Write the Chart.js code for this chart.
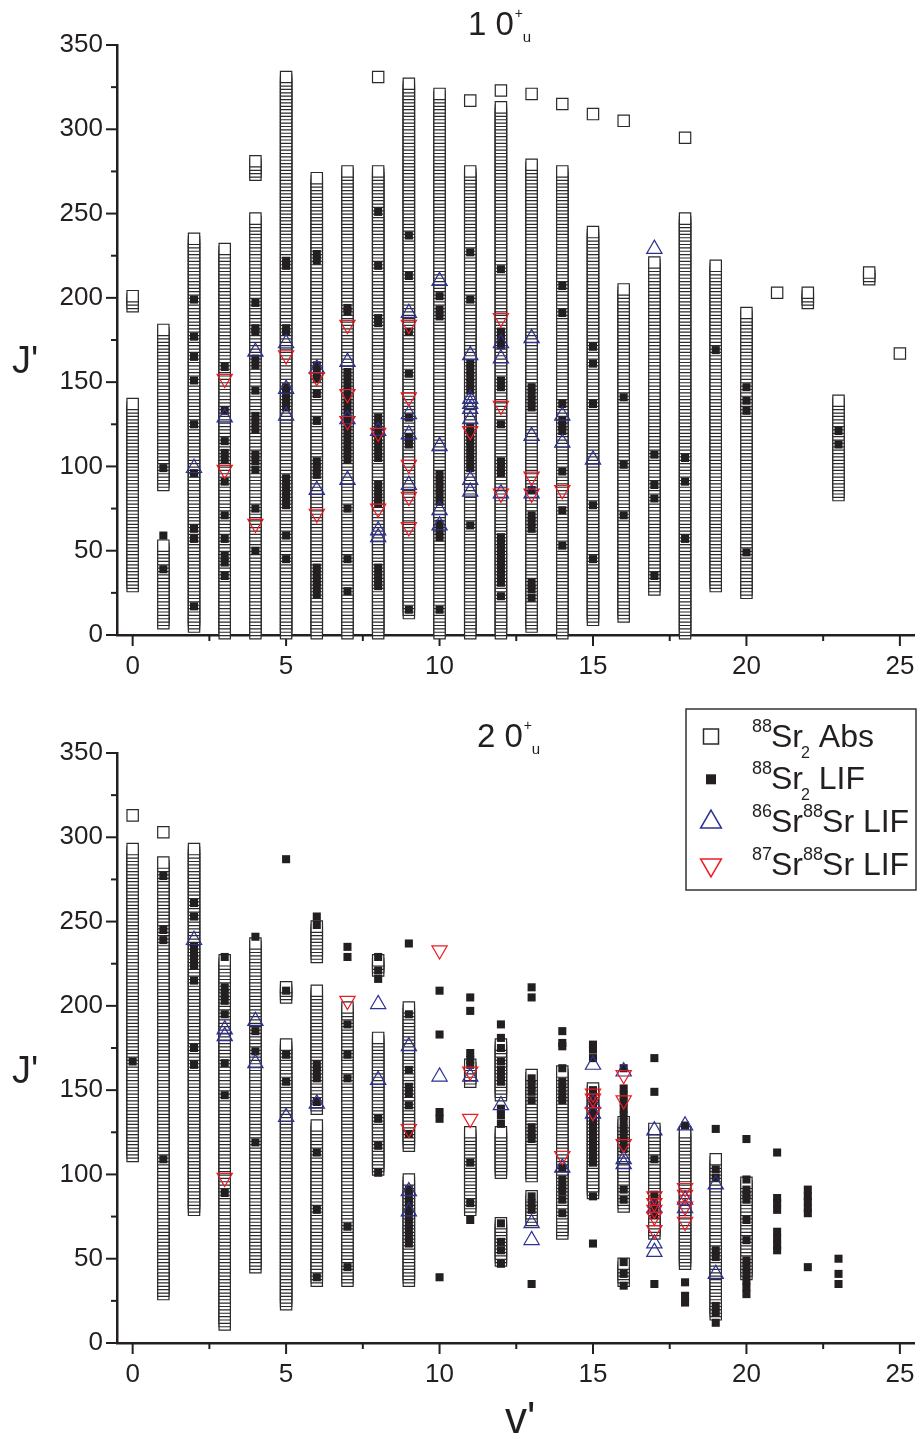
<!DOCTYPE html>
<html>
<head>
<meta charset="utf-8">
<script src="https://cdn.jsdelivr.net/npm/chart.js@4.4.0/dist/chart.umd.min.js"></script>
<style>
  body { margin: 0; background: #fff; }
  .panel { position: absolute; left: 0; }
  #topWrap { top: 0; }
  #botWrap { top: 680px; }
</style>
</head>
<body>
<div class="panel" id="topWrap"><canvas id="topChart" width="924" height="680"></canvas></div>
<div class="panel" id="botWrap"><canvas id="botChart" width="924" height="759"></canvas></div>
<script>
// ---- 轴刻度 ----
const xTicks = [0, 5, 10, 15, 20, 25];
const xMinorTicks = [2.5, 7.5, 12.5, 17.5, 22.5];
const yTicks = [0, 50, 100, 150, 200, 250, 300, 350];
const yMinorTicks = [25, 75, 125, 175, 225, 275, 325];

// ---- 上图 1 0u+ ----
// 88Sr2 Abs: 连续观测的 J' 段 [v', J'min, J'max]
const topAbsRuns = [
    [0, 29, 137], [0, 195, 201], [1, 7, 53], [1, 89, 181], [2, 5, 235], [3, 1, 229],
    [4, 1, 247], [4, 273, 281], [5, 1, 331], [6, 1, 271], [7, 1, 275], [8, 1, 275],
    [9, 13, 327], [10, 1, 321], [11, 1, 275], [12, 1, 313], [13, 5, 279], [14, 1, 275],
    [15, 9, 239], [16, 11, 205], [17, 27, 221], [18, 1, 247], [19, 29, 219], [20, 25, 191],
    [22, 197, 203], [23, 83, 139], [24, 211, 215]
];
const topAbsSingles = [[8, 331], [11, 317], [12, 323], [13, 321], [14, 315], [15, 309], [16, 305], [18, 295], [21, 203], [25, 167]];
// 88Sr2 LIF
const topLif = [
    [1, [99, 59, 39]],
    [2, [199, 177, 165, 151, 125, 96, 63, 57, 17]],
    [3, [159, 133, 115, 108, 104, 91, 71, 57, 47, 43, 35]],
    [4, [197, 182, 180, 164, 160, 145, 130, 126, 122, 107, 103, 98, 75, 50]],
    [5, [222, 219, 182, 180, 147, 143, 139, 135, 93, 89, 85, 81, 77, 59, 45]],
    [6, [226, 222, 160, 156, 152, 143, 127, 103, 99, 95, 40, 36, 32, 28, 24]],
    [7, [194, 192, 156, 152, 148, 144, 140, 136, 132, 128, 124, 120, 116, 112, 108, 104, 75, 45, 26]],
    [8, [251, 219, 188, 185, 129, 125, 121, 117, 113, 109, 105, 89, 85, 81, 78, 40, 36, 32, 29]],
    [9, [237, 213, 180, 155, 129, 117, 113, 15]],
    [10, [201, 193, 189, 95, 91, 87, 83, 79, 66, 62, 58, 15]],
    [11, [227, 199, 161, 157, 153, 149, 145, 123, 119, 115, 111, 107, 103, 99, 65]],
    [12, [217, 180, 176, 172, 151, 147, 125, 103, 99, 96, 58, 54, 51, 47, 43, 39, 35, 31, 23]],
    [13, [147, 143, 139, 135, 86, 71, 67, 63, 31, 27, 22]],
    [14, [207, 191, 137, 127, 124, 121, 97, 74, 53]],
    [15, [171, 161, 137, 77, 45]],
    [16, [141, 101, 71]],
    [17, [107, 89, 81, 35]],
    [18, [105, 91, 57]],
    [19, [169]],
    [20, [147, 139, 133, 49]],
    [23, [121, 113]]
];
// 86Sr88Sr LIF
const top86 = [
    [2, [99]], [3, [129]], [4, [168]], [5, [173, 146, 130]], [6, [158, 86]], [7, [162, 128, 92]],
    [8, [121, 62, 58]], [9, [191, 131, 119, 89]], [10, [210, 112, 74, 65]],
    [11, [166, 140, 137, 134, 128, 92, 85]], [12, [173, 164, 84]], [13, [176, 118, 84]],
    [14, [130, 114]], [15, [104]], [17, [229]]
];
// 87Sr88Sr LIF
const top87 = [
    [3, [152, 98]], [4, [66]], [5, [166]], [6, [153, 72]], [7, [184, 143, 127]], [8, [120, 75]],
    [9, [184, 141, 101, 82, 64]], [11, [121]], [12, [188, 136, 84]], [13, [94, 84]], [14, [86]]
];

// ---- 下图 2 0u+ ----
const botAbsRuns = [
    [0, 111, 293], [1, 29, 285], [2, 79, 293], [3, 11, 227], [4, 45, 237], [5, 23, 177], [5, 205, 211],
    [6, 37, 129], [6, 139, 209], [6, 229, 247], [7, 37, 199], [8, 103, 181], [8, 221, 227],
    [9, 37, 97], [9, 117, 199], [11, 79, 125], [11, 155, 165], [12, 49, 71], [12, 101, 125],
    [12, 147, 177], [13, 73, 87], [13, 99, 159], [14, 65, 161], [15, 89, 151], [16, 37, 47],
    [16, 81, 131], [17, 65, 127], [18, 47, 125], [19, 17, 109], [20, 41, 95]
];
const botAbsSingles = [[0, 313], [1, 303]];
const botLif = [
    [0, [167]],
    [1, [277, 245, 239, 109]],
    [2, [261, 253, 235, 231, 227, 224, 215, 175, 165]],
    [3, [229, 211, 207, 203, 195, 166, 147, 89]],
    [4, [241, 185, 173, 119]],
    [5, [287, 209, 171, 155]],
    [6, [253, 248, 165, 161, 157, 143, 113, 79, 39]],
    [7, [235, 229, 189, 171, 157, 69, 45]],
    [8, [229, 221, 216, 133, 117, 101]],
    [9, [237, 195, 162, 152, 148, 141, 124, 91, 87, 83, 79, 75, 71, 67, 63, 59]],
    [10, [209, 183, 137, 133, 39]],
    [11, [205, 197, 172, 168, 165, 107, 83, 73]],
    [12, [189, 181, 175, 167, 162, 158, 155, 139, 135, 130, 71, 60, 55, 47]],
    [13, [211, 205, 157, 153, 149, 144, 128, 124, 121, 87, 83, 79, 35]],
    [14, [185, 178, 176, 163, 155, 151, 147, 144, 104, 97, 93, 90, 85, 77]],
    [15, [177, 174, 169, 150, 146, 142, 138, 134, 130, 126, 122, 118, 114, 110, 107, 87, 59]],
    [16, [163, 151, 147, 143, 139, 135, 131, 127, 123, 119, 115, 91, 85, 48, 41, 34]],
    [17, [169, 149, 109, 88, 84, 80, 76, 35]],
    [18, [129, 36, 28, 24]],
    [19, [127, 103, 98, 55, 51, 22, 18, 12]],
    [20, [121, 97, 91, 88, 85, 73, 61, 49, 45, 41, 37, 33, 29]],
    [21, [113, 86, 83, 79, 66, 62, 58, 55]],
    [22, [91, 87, 84, 80, 77, 45]],
    [23, [50, 41, 35]]
];
const bot86 = [
    [2, [239]], [3, [186, 182]], [4, [191, 166]], [5, [134]], [6, [142]], [8, [201, 156]],
    [9, [176, 90, 78]], [10, [158]], [11, [158]], [12, [141]], [13, [71, 61]], [14, [104]],
    [15, [165, 142, 136]], [16, [161, 109, 106]], [17, [126, 80, 59, 54]], [18, [129, 85, 80]],
    [19, [94, 41]]
];
const bot87 = [
    [3, [98]], [7, [203]], [9, [127]], [10, [233]], [11, [161, 133]], [14, [111]],
    [15, [148, 145, 137]], [16, [159, 144, 118]], [17, [87, 83, 79, 75, 67]], [18, [92, 88, 81, 72]]
];

const INK = '#231f20';
const BLUE = '#2e3192';
const RED = '#ed1c24';
const FONT = '"Liberation Sans", Arial, Helvetica, sans-serif';

function expandRuns(runs, singles) {
    const pts = [];
    runs.forEach(([v, lo, hi]) => { for (let j = lo; j <= hi; j += 2) pts.push({ x: v, y: j }); });
    singles.forEach(([v, j]) => pts.push({ x: v, y: j }));
    return pts;
}
function toPoints(groups) {
    const pts = [];
    groups.forEach(([v, js]) => js.forEach(j => pts.push({ x: v, y: j })));
    return pts;
}

// 主/次刻度线(向外)
const axisTicks = {
    id: 'axisTicks',
    beforeDatasetsDraw(chart) {
        const { ctx, scales: { x, y } } = chart;
        ctx.save();
        ctx.strokeStyle = INK;
        ctx.lineWidth = 2;
        const bottom = y.bottom, left = x.left;
        xTicks.concat(xMinorTicks).forEach(v => {
            const px = x.getPixelForValue(v);
            const len = xTicks.includes(v) ? 11 : 6;
            ctx.beginPath(); ctx.moveTo(px, bottom); ctx.lineTo(px, bottom + len); ctx.stroke();
        });
        yTicks.concat(yMinorTicks).forEach(j => {
            const py = y.getPixelForValue(j);
            const len = yTicks.includes(j) ? 11 : 6;
            ctx.beginPath(); ctx.moveTo(left, py); ctx.lineTo(left - len, py); ctx.stroke();
        });
        ctx.restore();
    }
};

function drawMarker(ctx, kind, cx, cy, s) {
    ctx.save();
    ctx.beginPath();
    if (kind === 'abs' || kind === 'lif') {
        ctx.rect(cx - s / 2, cy - s / 2, s, s);
        if (kind === 'abs') { ctx.fillStyle = '#fff'; ctx.fill(); ctx.strokeStyle = '#2a2a2a'; ctx.lineWidth = 1.5; ctx.stroke(); }
        else { ctx.fillStyle = INK; ctx.fill(); }
    } else {
        const r = s, dir = kind === 'up' ? 1 : -1;
        ctx.moveTo(cx, cy - dir * r);
        ctx.lineTo(cx + r * 0.866, cy + dir * r / 2);
        ctx.lineTo(cx - r * 0.866, cy + dir * r / 2);
        ctx.closePath();
        ctx.strokeStyle = kind === 'up' ? BLUE : RED;
        ctx.lineWidth = 1.5;
        ctx.stroke();
    }
    ctx.restore();
}

// 标题、轴标题、图例
function panelText(cfg) {
    return {
        id: 'panelText',
        afterDraw(chart) {
            const ctx = chart.ctx;
            ctx.save();
            ctx.fillStyle = INK;
            ctx.textAlign = 'left';
            ctx.textBaseline = 'alphabetic';
            // 标题 "n 0+u"
            ctx.font = '33px ' + FONT;
            ctx.fillText(cfg.title, cfg.titleX, cfg.titleY);
            const w = ctx.measureText(cfg.title).width;
            ctx.font = '14px ' + FONT;
            ctx.fillText('+', cfg.titleX + w + 1, cfg.titleY - 17);
            ctx.font = '15px ' + FONT;
            ctx.fillText('u', cfg.titleX + w + 9, cfg.titleY + 7);
            // J'
            ctx.font = '38px ' + FONT;
            ctx.fillText("J'", 12, cfg.jY);
            if (cfg.vY) {
                ctx.font = '44px ' + FONT;
                ctx.fillText("v'", 505, cfg.vY);
            }
            if (cfg.legend) drawLegend(ctx);
            ctx.restore();
        }
    };
}

function drawLegend(ctx) {
    ctx.save();
    ctx.strokeStyle = '#333';
    ctx.lineWidth = 1.5;
    ctx.strokeRect(686, 29, 230, 181);
    const rows = [
        { kind: 'abs', size: 15, parts: [['sup', '88'], ['main', 'Sr'], ['sub', '2'], ['main', ' Abs']] },
        { kind: 'lif', size: 10, parts: [['sup', '88'], ['main', 'Sr'], ['sub', '2'], ['main', ' LIF']] },
        { kind: 'up', size: 12, parts: [['sup', '86'], ['main', 'Sr'], ['sup', '88'], ['main', 'Sr LIF']] },
        { kind: 'down', size: 12, parts: [['sup', '87'], ['main', 'Sr'], ['sup', '88'], ['main', 'Sr LIF']] }
    ];
    rows.forEach((row, i) => {
        const base = 66.5 + i * 42.8;
        drawMarker(ctx, row.kind, 711, base - 10, row.size);
        let x = 752;
        ctx.fillStyle = INK;
        row.parts.forEach(([t, s]) => {
            if (t === 'sup') { ctx.font = '18px ' + FONT; ctx.fillText(s, x, base - 15); x += ctx.measureText(s).width - 1; }
            else if (t === 'sub') { ctx.font = '16px ' + FONT; ctx.fillText(s, x - 2, base + 11); x += ctx.measureText(s).width - 2; }
            else { ctx.font = '32px ' + FONT; ctx.fillText(s, x, base); x += ctx.measureText(s).width; }
        });
    });
    ctx.restore();
}

function buildChart(id, d, topPad, xHeight, text) {
    const tickFont = { family: FONT, size: 26 };
    return new Chart(document.getElementById(id), {
        type: 'scatter',
        data: {
            datasets: [
                { label: '88Sr2 Abs', data: expandRuns(d.absRuns, d.absSingles), pointStyle: 'rect', pointRadius: 8,
                  backgroundColor: '#fff', borderColor: '#2a2a2a', borderWidth: 1.2, order: 4, clip: false },
                { label: '88Sr2 LIF', data: toPoints(d.lif), pointStyle: 'rect', pointRadius: 5.7,
                  backgroundColor: INK, borderColor: INK, borderWidth: 0, order: 3, clip: false },
                { label: '86Sr88Sr LIF', data: toPoints(d.t86), pointStyle: 'triangle', pointRadius: 8.8,
                  backgroundColor: 'rgba(0,0,0,0)', borderColor: BLUE, borderWidth: 1.2, order: 2, clip: false },
                { label: '87Sr88Sr LIF', data: toPoints(d.t87), pointStyle: 'triangle', pointRadius: 8.8, pointRotation: 180,
                  backgroundColor: 'rgba(0,0,0,0)', borderColor: RED, borderWidth: 1.2, order: 1, clip: false }
            ]
        },
        options: {
            responsive: false,
            devicePixelRatio: 1,
            animation: false,
            events: [],
            layout: { padding: { top: topPad, right: 9, left: 0, bottom: 0 } },
            plugins: { legend: { display: false }, tooltip: { enabled: false } },
            scales: {
                x: {
                    type: 'linear', min: -0.51, max: 25.46,
                    afterBuildTicks: s => { s.ticks = xTicks.map(v => ({ value: v })); },
                    afterFit: s => { s.height = xHeight; s.paddingLeft = 0; s.paddingRight = 0; },
                    grid: { display: false, drawTicks: false },
                    border: { display: true, color: INK, width: 2.5 },
                    ticks: { font: tickFont, color: INK, padding: 16, maxRotation: 0 }
                },
                y: {
                    type: 'linear', min: 0, max: 350,
                    afterBuildTicks: s => { s.ticks = yTicks.map(v => ({ value: v })); },
                    afterFit: s => { s.width = 117; s.paddingTop = 0; s.paddingBottom = 0; },
                    grid: { display: false, drawTicks: false },
                    border: { display: true, color: INK, width: 2.5 },
                    ticks: { font: tickFont, color: INK, padding: 14 }
                }
            }
        },
        plugins: [axisTicks, panelText(text)]
    });
}

buildChart('topChart',
    { absRuns: topAbsRuns, absSingles: topAbsSingles, lif: topLif, t86: top86, t87: top87 },
    45, 45, { title: '1 0', titleX: 468, titleY: 35, jY: 373 });
buildChart('botChart',
    { absRuns: botAbsRuns, absSingles: botAbsSingles, lif: botLif, t86: bot86, t87: bot87 },
    73, 96, { title: '2 0', titleX: 477, titleY: 67, jY: 403, vY: 753, legend: true });
</script>
</body>
</html>
